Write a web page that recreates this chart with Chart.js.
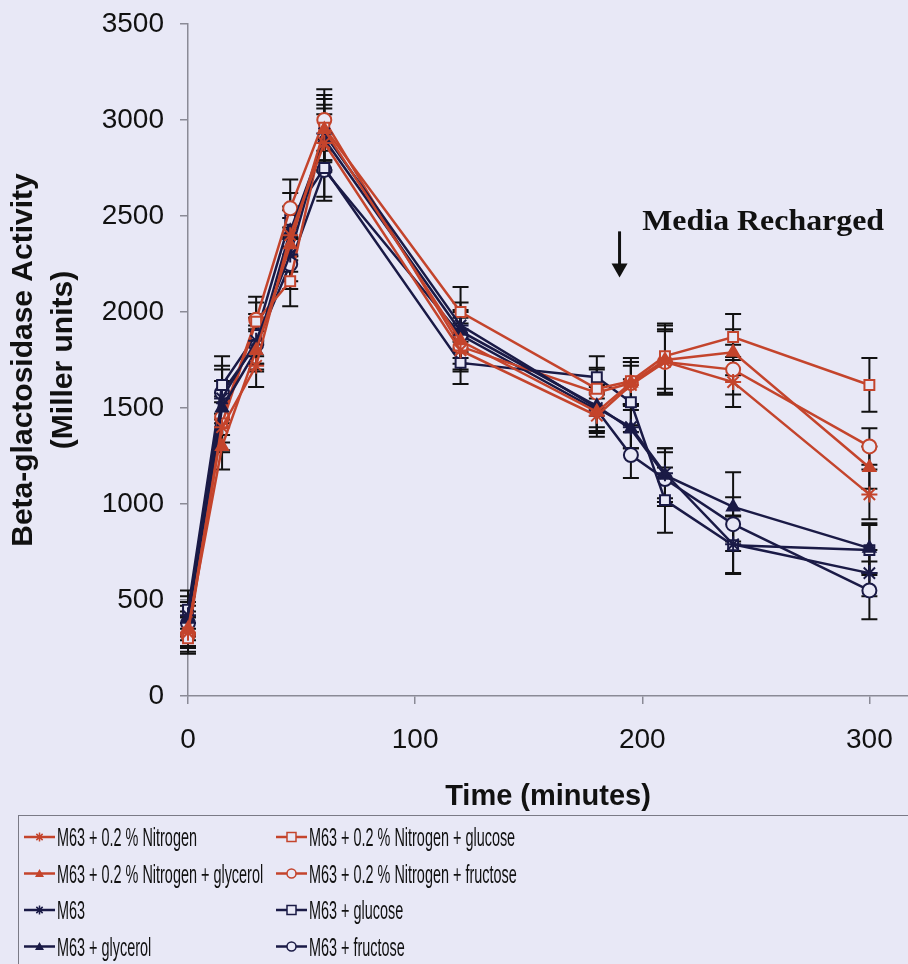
<!DOCTYPE html>
<html>
<head>
<meta charset="utf-8">
<title>Beta-glactosidase Activity</title>
<script src="https://cdn.jsdelivr.net/npm/chart.js@4/dist/chart.umd.min.js"></script>
<style>
  html, body { margin: 0; padding: 0; background: #e8e8f6; }
  canvas { display: block; }
</style>
</head>
<body>
<canvas id="chart" width="908" height="964"></canvas>
<script>
// Sampling times (minutes)
const times = [0, 15, 30, 45, 60, 120, 180, 195, 210, 240, 300];

// Mean activity (Miller units) per medium
const nitrogen        = [330, 1400, 1720, 2400, 2880, 1800, 1460, 1620, 1740, 1635, 1050];
const nitrogenGly     = [350, 1300, 1800, 2350, 2950, 1850, 1480, 1630, 1750, 1790, 1190];
const m63             = [420, 1550, 1850, 2300, 2930, 1930, 1500, 1400, 1160,  790,  640];
const m63Gly          = [400, 1500, 1800, 2420, 2900, 1900, 1510, 1390, 1150,  985,  770];
const nitrogenGlu     = [300, 1420, 1950, 2160, 2960, 2000, 1600, 1640, 1770, 1870, 1620];
const nitrogenFru     = [320, 1450, 1960, 2540, 3000, 1820, 1580, 1630, 1740, 1700, 1300];
const m63Glu          = [450, 1620, 1880, 2480, 2750, 1735, 1660, 1530, 1020,  785,  760];
const m63Fru          = [380, 1580, 1830, 2250, 2740, 1880, 1490, 1255, 1130,  895,  550];

// Standard error (+/-) per point
const nitrogenErr     = [80, 130, 110, 130, 150, 110, 110, 100, 170, 130, 130];
const nitrogenGlyErr  = [90, 120, 100, 140, 160, 120, 100, 110, 180, 120, 110];
const m63Err          = [100, 150, 120, 140, 150, 120, 120, 110, 130, 150, 120];
const m63GlyErr       = [90, 140, 110, 130, 160, 110, 110, 100, 140, 180, 130];
const nitrogenGluErr  = [80, 140, 100, 130, 170, 130, 110, 120, 170, 120, 140];
const nitrogenFruErr  = [90, 130, 120, 150, 160, 120, 120, 110, 160, 130, 95];
const m63GluErr       = [100, 150, 110, 140, 150, 110, 110, 120, 170, 150, 130];
const m63FruErr       = [90, 140, 100, 130, 160, 120, 120, 120, 140, 140, 150];

const labels = [
  'M63 + 0.2 % Nitrogen',
  'M63 + 0.2 % Nitrogen + glycerol',
  'M63',
  'M63 + glycerol',
  'M63 + 0.2 % Nitrogen + glucose',
  'M63 + 0.2 % Nitrogen + fructose',
  'M63 + glucose',
  'M63 + fructose'
];

const xTicks = [0, 100, 200, 300];
const yTicks = [0, 500, 1000, 1500, 2000, 2500, 3000, 3500];

const BG = '#e8e8f6';
const RED = '#c4442c';
const DARK = '#1a1a46';
const INK = '#111111';
const AXIS = '#8a8a96';

function series(label, values, errors, color, style) {
  const open = style === 'rect' || style === 'circle';
  return {
    label: label,
    data: values.map((v, i) => ({ x: times[i], y: v })),
    errors: errors,
    borderColor: color,
    backgroundColor: open ? BG : color,
    borderWidth: 2.5,
    pointStyle: style,
    pointRadius: style === 'star' ? 8 : 7,
    pointBorderColor: color,
    pointBackgroundColor: open ? BG : color,
    pointBorderWidth: 2,
    fill: false,
    tension: 0,
    clip: false
  };
}

const datasets = [
  series(labels[0], nitrogen, nitrogenErr, RED, 'star'),
  series(labels[1], nitrogenGly, nitrogenGlyErr, RED, 'triangle'),
  series(labels[2], m63, m63Err, DARK, 'star'),
  series(labels[3], m63Gly, m63GlyErr, DARK, 'triangle'),
  series(labels[4], nitrogenGlu, nitrogenGluErr, RED, 'rect'),
  series(labels[5], nitrogenFru, nitrogenFruErr, RED, 'circle'),
  series(labels[6], m63Glu, m63GluErr, DARK, 'rect'),
  series(labels[7], m63Fru, m63FruErr, DARK, 'circle')
];

// Vertical error bars with caps, under the markers
const errorBars = {
  id: 'errorBars',
  beforeDatasetsDraw(chart) {
    const { ctx, scales: { x, y } } = chart;
    ctx.save();
    ctx.strokeStyle = INK;
    ctx.lineWidth = 2;
    chart.data.datasets.forEach(ds => {
      ds.data.forEach((p, j) => {
        const e = ds.errors[j];
        const px = x.getPixelForValue(p.x);
        const top = y.getPixelForValue(p.y + e);
        const bot = y.getPixelForValue(p.y - e);
        ctx.beginPath();
        ctx.moveTo(px, top); ctx.lineTo(px, bot);
        ctx.moveTo(px - 8, top); ctx.lineTo(px + 8, top);
        ctx.moveTo(px - 8, bot); ctx.lineTo(px + 8, bot);
        ctx.stroke();
      });
    });
    ctx.restore();
  }
};

// "Media Recharged" note with a down arrow
const recharge = { at: 190, from: 2420, to: 2180, text: 'Media Recharged', textAt: 200, textY: 2427 };

const rechargeNote = {
  id: 'rechargeNote',
  afterDraw(chart) {
    const { ctx, scales: { x, y } } = chart;
    const ax = x.getPixelForValue(recharge.at);
    const y0 = y.getPixelForValue(recharge.from);
    const y1 = y.getPixelForValue(recharge.to);
    ctx.save();
    ctx.strokeStyle = INK;
    ctx.fillStyle = INK;
    ctx.lineWidth = 3;
    ctx.beginPath();
    ctx.moveTo(ax, y0);
    ctx.lineTo(ax, y1 - 12);
    ctx.stroke();
    ctx.beginPath();
    ctx.moveTo(ax - 8, y1 - 14);
    ctx.lineTo(ax + 8, y1 - 14);
    ctx.lineTo(ax, y1);
    ctx.closePath();
    ctx.fill();
    // serif label, slightly widened
    const stretch = 1.1;
    ctx.font = 'bold 29px "Liberation Serif", "Times New Roman", serif';
    ctx.textBaseline = 'alphabetic';
    ctx.scale(stretch, 1);
    ctx.fillText(recharge.text, x.getPixelForValue(recharge.textAt) / stretch, y.getPixelForValue(recharge.textY));
    ctx.restore();
  }
};

function drawMarker(ctx, style, cx, cy, r, color) {
  ctx.strokeStyle = color;
  ctx.fillStyle = color;
  ctx.lineWidth = 1.5;
  ctx.beginPath();
  if (style === 'star') {
    ctx.moveTo(cx - r, cy); ctx.lineTo(cx + r, cy);
    ctx.moveTo(cx, cy - r); ctx.lineTo(cx, cy + r);
    const d = r * 0.7;
    ctx.moveTo(cx - d, cy - d); ctx.lineTo(cx + d, cy + d);
    ctx.moveTo(cx - d, cy + d); ctx.lineTo(cx + d, cy - d);
    ctx.stroke();
  } else if (style === 'triangle') {
    ctx.moveTo(cx, cy - r);
    ctx.lineTo(cx + r, cy + r * 0.8);
    ctx.lineTo(cx - r, cy + r * 0.8);
    ctx.closePath();
    ctx.fill();
  } else if (style === 'rect') {
    ctx.fillStyle = BG;
    ctx.rect(cx - r, cy - r, r * 2, r * 2);
    ctx.fill(); ctx.stroke();
  } else {
    ctx.fillStyle = BG;
    ctx.arc(cx, cy, r, 0, Math.PI * 2);
    ctx.fill(); ctx.stroke();
  }
}

// Two-column boxed legend under the x axis
const boxLegend = {
  id: 'boxLegend',
  afterDraw(chart) {
    const ctx = chart.ctx;
    const squeeze = 0.555;
    ctx.save();
    ctx.strokeStyle = '#7a7a86';
    ctx.lineWidth = 1;
    ctx.strokeRect(18.5, 815.5, 1000, 300);
    ctx.font = '26px "Liberation Sans", Arial, sans-serif';
    ctx.textBaseline = 'alphabetic';
    chart.data.datasets.forEach((ds, i) => {
      const col = i < 4 ? 0 : 1;
      const row = i % 4;
      const cy = 837 + row * 36.5;
      const lx = col === 0 ? 24 : 276;
      const tx = col === 0 ? 57 : 309;
      ctx.strokeStyle = ds.borderColor;
      ctx.lineWidth = 2.5;
      ctx.beginPath();
      ctx.moveTo(lx, cy); ctx.lineTo(lx + 31, cy);
      ctx.stroke();
      drawMarker(ctx, ds.pointStyle, lx + 15.5, cy, 4.5, ds.borderColor);
      ctx.save();
      ctx.scale(squeeze, 1);
      ctx.fillStyle = INK;
      ctx.fillText(ds.label, tx / squeeze, cy + 9);
      ctx.restore();
    });
    ctx.restore();
  }
};

new Chart(document.getElementById('chart'), {
  type: 'line',
  data: { datasets: datasets },
  options: {
    responsive: false,
    animation: false,
    layout: { autoPadding: false, padding: { left: 0, right: 0, top: 24, bottom: 149 } },
    plugins: {
      legend: { display: false },
      tooltip: { enabled: false }
    },
    scales: {
      x: {
        type: 'linear',
        min: 0,
        max: 317,
        afterFit: s => { s.height = 119; s.paddingLeft = 0; s.paddingRight = 0; },
        afterBuildTicks: s => { s.ticks = xTicks.map(v => ({ value: v })); },
        ticks: {
          color: INK,
          padding: 19,
          callback: v => String(v),
          font: { family: '"Liberation Sans", Arial, sans-serif', size: 28 }
        },
        grid: { display: true, drawOnChartArea: false, drawTicks: true, tickLength: 8, color: AXIS, lineWidth: 1.5 },
        border: { display: true, color: AXIS, width: 1.5 },
        title: {
          display: true,
          text: 'Time (minutes)',
          color: INK,
          padding: { top: 4, bottom: 1 },
          font: { family: '"Liberation Sans", Arial, sans-serif', size: 29, weight: 'bold' }
        }
      },
      y: {
        min: 0,
        max: 3500,
        afterFit: s => { s.width = 188; s.paddingTop = 0; s.paddingBottom = 0; },
        afterBuildTicks: s => { s.ticks = yTicks.map(v => ({ value: v })); },
        ticks: {
          color: INK,
          padding: 16,
          callback: v => String(v),
          font: { family: '"Liberation Sans", Arial, sans-serif', size: 28 }
        },
        grid: { display: true, drawOnChartArea: false, drawTicks: true, tickLength: 8, color: AXIS, lineWidth: 1.5 },
        border: { display: true, color: AXIS, width: 1.5 },
        title: {
          display: true,
          text: ['Beta-glactosidase Activity', '(Miller units)'],
          color: INK,
          padding: { top: 4, bottom: 4 },
          font: { family: '"Liberation Sans", Arial, sans-serif', size: 30, weight: 'bold', lineHeight: 1.33 }
        }
      }
    }
  },
  plugins: [errorBars, rechargeNote, boxLegend]
});
</script>
</body>
</html>
